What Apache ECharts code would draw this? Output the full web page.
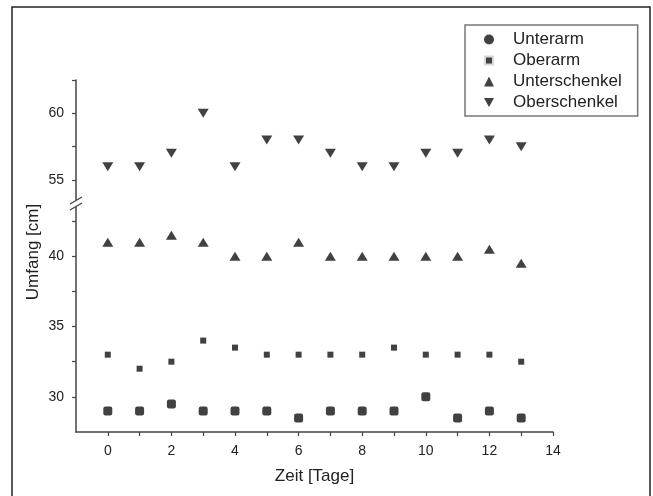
<!DOCTYPE html>
<html>
<head>
<meta charset="utf-8">
<script src="https://cdn.jsdelivr.net/npm/echarts@6/dist/echarts.min.js"></script>
<style>
html,body{margin:0;padding:0;background:#fff;}
#chart{width:653px;height:496px;}
</style>
</head>
<body>
<div id="chart"></div>
<script>
const days = [0,1,2,3,4,5,6,7,8,9,10,11,12,13];
const unterarm = [29,29,29.5,29,29,29,28.5,29,29,29,30,28.5,29,28.5];
const oberarm = [33,32,32.5,34,33.5,33,33,33,33,33.5,33,33,33,32.5];
const unterschenkel = [41,41,41.5,41,40,40,41,40,40,40,40,40,40.5,39.5];
const oberschenkel = [56,56,57,60,56,58,58,57,56,56,57,57,58,57.5];
const xLabelValues = [0,2,4,6,8,10,12,14];
const xTickValues = [0,1,2,3,4,5,6,7,8,9,10,11,12,13,14];
const yLowLabels = [30,35,40];
const yLowTicks = [30,32.5,35,37.5,40,42.5];
const yUpLabels = [55,60];
const yUpTicks = [55,57.5,60,62.5];

const FONT = "'Liberation Sans', Arial, sans-serif";
const AX = '#444';
const pts = arr => days.map((d,i)=>[d, arr[i]]);

const chart = echarts.init(document.getElementById('chart'), null, {renderer:'canvas'});
const yCommon = {
  type:'value',
  axisLine:{show:true, onZero:false, lineStyle:{color:AX, width:1.5}},
  axisTick:{show:true, length:4, lineStyle:{color:AX, width:1.2}},
  axisLabel:{color:'#222', fontSize:14, fontFamily:FONT, margin:12},
  splitLine:{show:false}
};
chart.setOption({
  backgroundColor:'#fff',
  animation:false,
  grid:[
    {left:76, top:80, width:477, height:120},
    {left:76, top:207, width:477, height:225}
  ],
  xAxis:[
    {gridIndex:0, type:'value', min:-1, max:14, show:false},
    {gridIndex:1, type:'value', min:-1, max:14,
     name:'Zeit [Tage]', nameLocation:'middle', nameGap:36,
     nameTextStyle:{fontSize:17, fontFamily:FONT, color:'#222'},
     axisLine:{show:true, onZero:false, lineStyle:{color:AX, width:1.5}},
     axisTick:{show:true, length:4, customValues:xTickValues, lineStyle:{color:AX, width:1.2}},
     axisLabel:{color:'#222', fontSize:14, fontFamily:FONT, margin:12, customValues:xLabelValues},
     splitLine:{show:false}}
  ],
  yAxis:[
    Object.assign({}, yCommon, {gridIndex:0, min:53.5, max:62.5,
      axisTick:Object.assign({}, yCommon.axisTick, {customValues:yUpTicks}),
      axisLabel:Object.assign({}, yCommon.axisLabel, {customValues:yUpLabels})}),
    Object.assign({}, yCommon, {gridIndex:1, min:27.5, max:43.5,
      axisTick:Object.assign({}, yCommon.axisTick, {customValues:yLowTicks}),
      axisLabel:Object.assign({}, yCommon.axisLabel, {customValues:yLowLabels})})
  ],
  legend:{
    orient:'vertical', left:465, top:25,
    padding:[4,16,3,17],
    itemGap:0, itemWidth:10, itemHeight:10,
    borderColor:'#777', borderWidth:1.5,
    textStyle:{fontSize:17, fontFamily:FONT, color:'#222', lineHeight:21, padding:[0,0,0,14]},
    data:[
      {name:'Unterarm', icon:'circle'},
      {name:'Oberarm', icon:'rect', itemStyle:{borderColor:'#fff', borderWidth:4}},
      {name:'Unterschenkel', icon:'triangle'},
      {name:'Oberschenkel', icon:'path://M0,0L10,0L5,9Z'}
    ]
  },
  series:[
    {name:'Unterarm', type:'scatter', xAxisIndex:1, yAxisIndex:1, symbol:'roundRect', symbolSize:9,
     itemStyle:{color:'#111'}, data:pts(unterarm)},
    {name:'Oberarm', type:'scatter', xAxisIndex:1, yAxisIndex:1, symbol:'rect', symbolSize:6,
     itemStyle:{color:'#111'}, data:pts(oberarm)},
    {name:'Unterschenkel', type:'scatter', xAxisIndex:1, yAxisIndex:1, symbol:'triangle', symbolSize:[11,9],
     itemStyle:{color:'#111'}, data:pts(unterschenkel)},
    {name:'Oberschenkel', type:'scatter', xAxisIndex:0, yAxisIndex:0, symbol:'triangle', symbolRotate:180, symbolSize:[11,9],
     itemStyle:{color:'#111'}, data:pts(oberschenkel)}
  ],
  graphic:[
    {type:'rect', shape:{x:12, y:7, width:638, height:500}, style:{fill:null, stroke:'#222', lineWidth:1.5}, silent:true},
    {type:'line', shape:{x1:70, y1:204, x2:82, y2:197}, style:{stroke:AX, lineWidth:1.3}},
    {type:'line', shape:{x1:70, y1:210, x2:82, y2:203}, style:{stroke:AX, lineWidth:1.3}},
    {type:'text', x:33, y:252, rotation:Math.PI/2,
     style:{text:'Umfang [cm]', fontSize:17, fontFamily:FONT, fill:'#222', align:'center', verticalAlign:'middle'}}
  ]
});
</script>
</body>
</html>
